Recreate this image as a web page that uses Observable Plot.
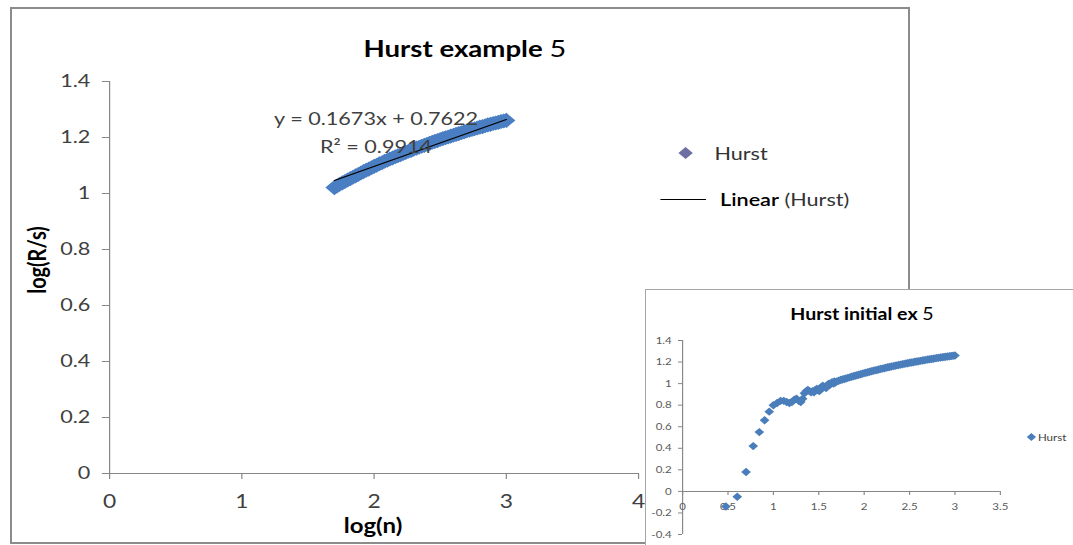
<!DOCTYPE html>
<html><head><meta charset="utf-8">
<script src="https://cdn.jsdelivr.net/npm/d3@7"></script>
<script src="https://cdn.jsdelivr.net/npm/@observablehq/plot@0.6"></script>
<style>
html,body{margin:0;padding:0;background:#fff}
body{width:1073px;height:545px;overflow:hidden;position:relative;font-family:Lato,"Open Sans",sans-serif}
.abs{position:absolute}
.c{transform:translate(-50%,-50%);white-space:nowrap}
.l{transform:translate(0,-50%);white-space:nowrap}
#mainFrame{left:10px;top:7px;width:896px;height:533px;border:2px solid #8c8c8c;background:#fff}
#main{left:10px;top:7px;width:750px;height:537px;transform-origin:0 0;transform:scaleX(1.2)}
#insetFrame{left:645px;top:289px;width:440px;height:270px;border:1px solid #a6a6a6;background:#fff}
#inset{left:645px;top:289px;width:372px;height:256px;transform-origin:0 0;transform:scaleX(1.15)}
svg{overflow:visible}
</style>
</head><body>
<div id="mainFrame" class="abs"></div>
<div id="main" class="abs">
  <div id="mainPlot" class="abs" style="left:0;top:0"></div>
  <div class="abs c" style="left:379px;top:40px;font-weight:700;font-size:23px;color:#000">Hurst example <span style="font-weight:400;font-size:24px">5</span></div>
  <div class="abs c" style="left:21.7px;top:253px;font-weight:700;font-size:20px;color:#000;transform:translate(-50%,-50%) rotate(-90deg)">log(R/s)</div>
  <div class="abs c" style="left:302.5px;top:518px;font-weight:700;font-size:20px;color:#000">log(n)</div>
  <div id="eq1" class="abs c" style="left:305px;top:111px;font-size:18px;color:#404040"></div>
  <div id="eq2" class="abs c" style="left:305px;top:139px;font-size:18px;color:#404040"></div>
  <svg class="abs" style="left:557px;top:140px" width="12" height="12"><polygon points="6,0 12,6 6,12 0,6" fill="#6e6ea3"/></svg>
  <div class="abs l" style="left:587px;top:146px;font-size:18px;color:#333">Hurst</div>
  <div class="abs" style="left:541.7px;top:192px;width:38.3px;height:1px;background:#000"></div>
  <div class="abs l" style="left:591.7px;top:192px;font-size:18px;color:#333"><span style="color:#000;font-weight:600">Linear</span>&nbsp;(Hurst)</div>
</div>
<div id="insetFrame" class="abs"></div>
<div id="inset" class="abs">
  <div id="insetPlot" class="abs" style="left:0;top:0"></div>
  <div class="abs c" style="left:188.7px;top:24px;font-weight:700;font-size:17px;color:#000">Hurst initial ex <span style="font-weight:400">5</span></div>
  <svg class="abs" style="left:331.7px;top:144px" width="8" height="8"><polygon points="4,0 8,4 4,8 0,4" fill="#4a7ebb"/></svg>
  <div class="abs l" style="left:341.7px;top:148px;font-size:10px;color:#404040">Hurst</div>
</div>
<script>
// Later part of the series (log(n) >= 1.7), shown in the main chart
const bandX = [1.70,1.72,1.74,1.76,1.78,1.80,1.82,1.84,1.86,1.88,1.90,1.92,1.94,1.96,1.98,2.00,2.02,2.04,2.06,2.08,2.10,2.12,2.14,2.16,2.18,2.20,2.22,2.24,2.26,2.28,2.30,2.32,2.34,2.36,2.38,2.40,2.42,2.44,2.46,2.48,2.50,2.52,2.54,2.56,2.58,2.60,2.62,2.64,2.66,2.68,2.70,2.72,2.74,2.76,2.78,2.80,2.82,2.84,2.86,2.88,2.90,2.92,2.94,2.96,2.98,3.00];
const bandY = [1.021,1.027,1.033,1.038,1.043,1.048,1.053,1.058,1.063,1.068,1.073,1.078,1.083,1.087,1.092,1.097,1.101,1.106,1.110,1.115,1.119,1.123,1.127,1.131,1.135,1.139,1.143,1.147,1.151,1.154,1.158,1.162,1.165,1.169,1.172,1.176,1.179,1.183,1.186,1.189,1.193,1.196,1.199,1.202,1.205,1.208,1.211,1.214,1.217,1.220,1.223,1.226,1.229,1.231,1.234,1.237,1.239,1.242,1.245,1.247,1.250,1.252,1.254,1.257,1.259,1.261];
// Initial part of the series, only in the inset
const initX = [0.477,0.602,0.699,0.778,0.845,0.903,0.954,1.0,1.041,1.079,1.114,1.146,1.176,1.204,1.23,1.255,1.279,1.301,1.322,1.342,1.362,1.38,1.398,1.415,1.431,1.447,1.462,1.477,1.491,1.505,1.519,1.531,1.544,1.556,1.568,1.58,1.591,1.602,1.613,1.623,1.633,1.643,1.653,1.663,1.672,1.681];
const initY = [-0.14,-0.05,0.18,0.42,0.55,0.66,0.74,0.80,0.82,0.84,0.84,0.83,0.82,0.83,0.85,0.86,0.84,0.83,0.86,0.91,0.93,0.94,0.93,0.92,0.93,0.92,0.94,0.95,0.94,0.93,0.95,0.97,0.98,0.97,0.97,0.96,0.98,0.99,1.00,0.99,1.00,1.01,1.01,1.00,1.02,1.01];
// Trendline
const trendSlope = 0.1673, trendIntercept = 0.7622, trendR2 = 0.9914;
// Ticks
const mainXTicks = [0,1,2,3,4];
const mainYTicks = [0,0.2,0.4,0.6,0.8,1,1.2,1.4];
const insetXTicks = [0,0.5,1,1.5,2,2.5,3,3.5];
const insetYTicks = [-0.4,-0.2,0,0.2,0.4,0.6,0.8,1,1.2,1.4];

const band = bandX.map((x,i)=>({x, y: bandY[i]}));
const all = initX.map((x,i)=>({x, y: initY[i]})).concat(band);
const trend = d3.extent(bandX).map(x=>({x, y: trendSlope*x + trendIntercept}));

document.getElementById("eq1").textContent = `y = ${trendSlope}x + ${trendIntercept}`;
document.getElementById("eq2").textContent = `R² = ${trendR2}`;

const fmt = d => String(d);
const gray = "#868686";

const main = Plot.plot({
  width: 750, height: 537,
  marginLeft: 82.5, marginRight: 226.7, marginTop: 74, marginBottom: 71,
  style: {background: "transparent", fontFamily: "Lato, sans-serif", overflow: "visible"},
  x: {domain: [0, 4]},
  y: {domain: [0, 1.4]},
  marks: [
    Plot.ruleX([0], {stroke: gray}),
    Plot.ruleY([0], {stroke: gray}),
    Plot.axisX({ticks: mainXTicks, tickFormat: fmt, tickSize: 6, tickPadding: 15, fontSize: 19, stroke: gray, fill: "#404040", label: null}),
    Plot.axisY({ticks: mainYTicks, tickFormat: fmt, tickSize: 6, tickPadding: 10, fontSize: 18, stroke: gray, fill: "#404040", label: null}),
    Plot.dot(band, {x: "x", y: "y", symbol: "diamond2", r: 6.8, fill: "#4a7ec2", stroke: null}),
    Plot.line(trend, {x: "x", y: "y", stroke: "#000", strokeWidth: 1.2})
  ]
});
document.getElementById("mainPlot").appendChild(main);

const inset = Plot.plot({
  width: 372, height: 256,
  marginLeft: 32.2, marginRight: 63.5, marginTop: 51, marginBottom: 11,
  style: {background: "transparent", fontFamily: "Lato, sans-serif", overflow: "visible"},
  x: {domain: [0, 3.5], axis: null},
  y: {domain: [-0.4, 1.4]},
  marks: [
    Plot.ruleX([0], {stroke: gray}),
    Plot.ruleY([0], {stroke: gray}),
    Plot.ruleX(insetXTicks, {x: d => d, y1: d => 0, y2: d => -0.037, stroke: gray}),
    Plot.axisY({ticks: insetYTicks, tickFormat: fmt, tickSize: 3.5, tickPadding: 6, fontSize: 10, stroke: gray, fill: "#595959", label: null}),
    Plot.text(insetXTicks, {x: d => d, y: d => 0, dy: 15, text: fmt, fontSize: 10, fill: "#595959"}),
    Plot.dot(all, {x: "x", y: "y", symbol: "diamond2", r: 3.8, fill: "#4a7ebb", stroke: null})
  ]
});
document.getElementById("insetPlot").appendChild(inset);
</script>
</body></html>
